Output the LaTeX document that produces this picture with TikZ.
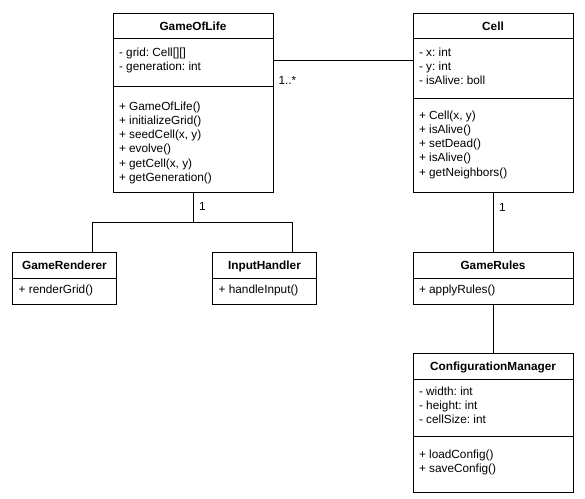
\documentclass[tikz,border=0pt]{standalone}
\usepackage{fontspec}
\setmainfont{Liberation Sans}
\frenchspacing
\begin{document}
\begin{tikzpicture}[x=1pt,y=-1pt,line width=1pt,
  classbox/.style={draw=black,fill=white,rectangle,inner sep=0pt,outer sep=0pt,anchor=north west},
  title/.style={anchor=base,inner sep=0pt,font=\fontsize{11.8}{14.2}\selectfont\bfseries},
  member/.style={anchor=base west,inner sep=0pt,font=\fontsize{11.8}{14.2}\selectfont\frenchspacing},
  mult/.style={anchor=base west,inner sep=0pt,font=\fontsize{11.8}{14.2}\selectfont},
  conn/.style={draw=black,line width=1pt}]
\useasboundingbox (0,0) rectangle (585,498);
\fill[white] (0,0) rectangle (585,498);

% class boxes
\node[classbox,minimum width=160pt,minimum height=179pt] (gol) at (113,13) {};
\node[classbox,minimum width=160pt,minimum height=179pt] (cell) at (413,13) {};
\node[classbox,minimum width=103.5pt,minimum height=52pt] (rend) at (12.7,252) {};
\node[classbox,minimum width=103.5pt,minimum height=52pt] (inp) at (212.7,252) {};
\node[classbox,minimum width=160pt,minimum height=52pt] (rules) at (413,252) {};
\node[classbox,minimum width=160pt,minimum height=139pt] (cfg) at (413,353) {};

% separators
\draw (gol.west |- 0,38) -- (gol.east |- 0,38);
\draw (gol.west |- 0,86) -- (gol.east |- 0,86);
\draw (cell.west |- 0,38) -- (cell.east |- 0,38);
\draw (cell.west |- 0,98) -- (cell.east |- 0,98);
\draw (rend.west |- 0,278) -- (rend.east |- 0,278);
\draw (inp.west |- 0,278) -- (inp.east |- 0,278);
\draw (rules.west |- 0,278) -- (rules.east |- 0,278);
\draw (cfg.west |- 0,379) -- (cfg.east |- 0,379);
\draw (cfg.west |- 0,436) -- (cfg.east |- 0,436);

% GameOfLife
\node[title] (gol-t) at (193,30.2) {GameOfLife};
\node[member] (gol-a1) at (118.5,56) {- grid: Cell[][]};
\node[member] (gol-a2) at (118.5,70.2) {- generation: int};
\node[member] (gol-m1) at (118.5,110.2) {+ GameOfLife()};
\node[member] (gol-m2) at (118.5,124.4) {+ initializeGrid()};
\node[member] (gol-m3) at (118.5,138.6) {+ seedCell(x, y)};
\node[member] (gol-m4) at (118.5,152.8) {+ evolve()};
\node[member] (gol-m5) at (118.5,167.0) {+ getCell(x, y)};
\node[member] (gol-m6) at (118.5,181.2) {+ getGeneration()};

% Cell
\node[title] (cell-t) at (493,30.2) {Cell};
\node[member] (cell-a1) at (418.5,56) {- x: int};
\node[member] (cell-a2) at (418.5,70.2) {- y: int};
\node[member] (cell-a3) at (418.5,84.4) {- isAlive: boll};
\node[member] (cell-m1) at (418.5,119.2) {+ Cell(x, y)};
\node[member] (cell-m2) at (418.5,133.4) {+ isAlive()};
\node[member] (cell-m3) at (418.5,147.6) {+ setDead()};
\node[member] (cell-m4) at (418.5,161.8) {+ isAlive()};
\node[member] (cell-m5) at (418.5,176.0) {+ getNeighbors()};

% GameRenderer
\node[title] (rend-t) at (64.45,269.2) {GameRenderer};
\node[member] (rend-m1) at (18.2,293.7) {+ renderGrid()};

% InputHandler
\node[title] (inp-t) at (264.45,269.2) {InputHandler};
\node[member] (inp-m1) at (218.2,293.7) {+ handleInput()};

% GameRules
\node[title] (rules-t) at (493,269.2) {GameRules};
\node[member] (rules-m1) at (418.5,293.7) {+ applyRules()};

% ConfigurationManager
\node[title] (cfg-t) at (493,370.9) {ConfigurationManager};
\node[member] (cfg-a1) at (418.5,395.2) {- width: int};
\node[member] (cfg-a2) at (418.5,409.4) {- height: int};
\node[member] (cfg-a3) at (418.5,423.6) {- cellSize: int};
\node[member] (cfg-m1) at (418.5,458.5) {+ loadConfig()};
\node[member] (cfg-m2) at (418.5,472.7) {+ saveConfig()};

% connectors
\draw[conn] ([yshift=41.8pt]gol.east) -- ([yshift=41.8pt]cell.west);
\node[mult] (m-assoc) at (278,84.2) {1..*};

\coordinate (j1) at (193,222.3);
\draw[conn] (gol.south) -- (j1);
\draw[conn] ([xshift=27.85pt]rend.north) |- (j1) -| ([xshift=27.85pt]inp.north);
\node[mult] (m-gol) at (198.5,210) {1};

\draw[conn] (cell.south) -- (rules.north);
\node[mult] (m-cell) at (498.5,211) {1};
\draw[conn] (rules.south) -- (cfg.north);
\end{tikzpicture}
\end{document}
